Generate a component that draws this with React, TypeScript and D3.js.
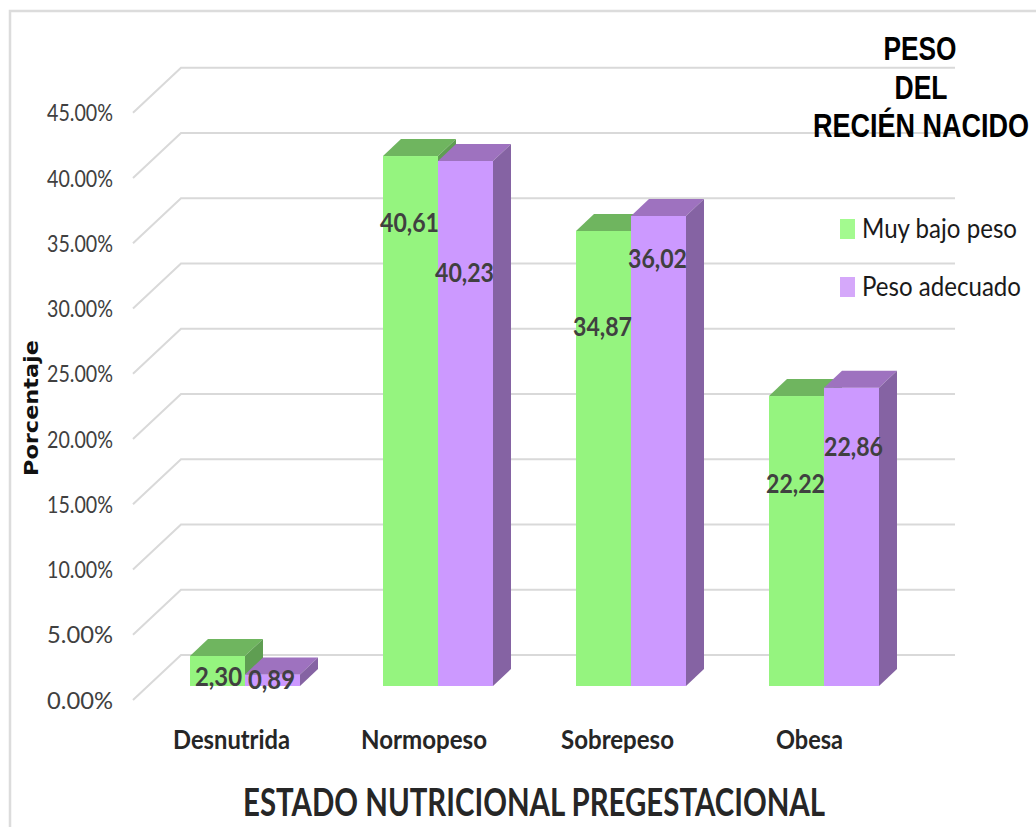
import React from "react";
import * as d3 from "d3";

const categories = ["Desnutrida", "Normopeso", "Sobrepeso", "Obesa"];
const muyBajoPeso = [2.3, 40.61, 34.87, 22.22];
const pesoAdecuado = [0.89, 40.23, 36.02, 22.86];
const muyBajoLabels = ["2,30", "40,61", "34,87", "22,22"];
const pesoLabels = ["0,89", "40,23", "36,02", "22,86"];
const ticks = [0, 5, 10, 15, 20, 25, 30, 35, 40, 45];
const titleLines = ["PESO", "DEL", "RECIÉN NACIDO"];
const legendNames = ["Muy bajo peso", "Peso adecuado"];

// label heights in axis units, as they sit on the bars
const muyBajoLabelAt = [0.75, 35.55, 27.6, 15.55];
const pesoLabelAt = [0.5, 31.7, 32.8, 18.4];
const muyBajoNudge = [2, 0, 0, 0];
const pesoNudge = [0, 0, 0, 3];

const GREEN = { front: "#95f47f", top: "#6fb55f", side: "#5f9e52" };
const PURPLE = { front: "#cc99ff", top: "#9e72bf", side: "#8563a3" };
const GRID = "#d9d9d9";
const TEXT = "#404040";
const SANS = "Lato, 'Open Sans', sans-serif";

const W = 1036;
const H = 827;
const y = d3.scaleLinear().domain([0, 45]).range([686, 98.75]);
const x = d3.scaleBand<string>().domain(categories).range([148.5, 920.5]).paddingInner(0).paddingOuter(0);
const barW = 55;
const DX = 18;
const DY = 17;
const wallDX = 48;
const wallDY = 45;
const tickY = (v: number) => y(v) + 14;

function Bar({ x0, v, c }: { x0: number; v: number; c: typeof GREEN }) {
  const yt = y(v);
  const yb = y(0);
  const x1 = x0 + barW;
  return (
    <g>
      <rect x={x0} y={yt} width={barW} height={yb - yt} fill={c.front} />
      <path d={`M${x0},${yt}L${x0 + DX},${yt - DY}L${x1 + DX},${yt - DY}L${x1},${yt}Z`} fill={c.top} />
      <path d={`M${x1},${yt}L${x1 + DX},${yt - DY}L${x1 + DX},${yb - DY}L${x1},${yb}Z`} fill={c.side} />
    </g>
  );
}

function Txt(props: any) {
  const { w, children, ...rest } = props;
  return (
    <text textLength={w} lengthAdjust="spacingAndGlyphs" {...rest}>
      {children}
    </text>
  );
}

export default function App() {
  const catCenters = [231.5, 424, 617.5, 809.5];
  const catWidths = [117, 126, 113, 67];
  return (
    <svg width={W} height={H} style={{ position: "absolute", left: 0, top: 0, background: "#fff" }}>
      <path d={`M10,${H}V11H${W}`} fill="none" stroke="#dcdcdc" strokeWidth={2.5} />

      {ticks.map((t) => (
        <path
          key={t}
          d={`M${133},${tickY(t)}L${133 + wallDX},${tickY(t) - wallDY}H955`}
          fill="none"
          stroke={GRID}
          strokeWidth={2}
        />
      ))}

      {ticks.map((t) => (
        <Txt key={t} x={47} y={tickY(t) + 8.5} w={66} fontFamily={SANS} fontSize={24} fill={TEXT}>
          {d3.format(".2f")(t)}%
        </Txt>
      ))}

      {categories.map((c, i) => {
        const x0 = (x(c) as number) + x.bandwidth() / 2 - barW;
        return (
          <g key={c}>
            <Bar x0={x0} v={muyBajoPeso[i]} c={GREEN} />
            <Bar x0={x0 + barW} v={pesoAdecuado[i]} c={PURPLE} />
          </g>
        );
      })}

      {categories.map((c, i) => {
        const mid = (x(c) as number) + x.bandwidth() / 2;
        return (
          <g key={c} fontFamily={SANS} fontWeight={700} fontSize={27} fill={TEXT} textAnchor="middle">
            <Txt x={mid - 28.5 + muyBajoNudge[i]} y={y(muyBajoLabelAt[i]) + 10} w={muyBajoLabels[i].length * 11.8}>
              {muyBajoLabels[i]}
            </Txt>
            <Txt x={mid + 26.5 + pesoNudge[i]} y={y(pesoLabelAt[i]) + 10} w={pesoLabels[i].length * 11.8}>
              {pesoLabels[i]}
            </Txt>
          </g>
        );
      })}

      {categories.map((c, i) => (
        <Txt
          key={c}
          x={catCenters[i]}
          y={749}
          w={catWidths[i]}
          textAnchor="middle"
          fontFamily={SANS}
          fontWeight={700}
          fontSize={27}
          fill="#262626"
        >
          {c}
        </Txt>
      ))}

      <Txt
        x={534}
        y={816}
        w={582}
        textAnchor="middle"
        fontFamily={SANS}
        fontWeight={700}
        fontSize={38}
        fill="#262626"
      >
        ESTADO NUTRICIONAL PREGESTACIONAL
      </Txt>

      <Txt
        transform="translate(38,408) rotate(-90)"
        x={0}
        y={0}
        w={136}
        textAnchor="middle"
        fontFamily="'DejaVu Sans', sans-serif"
        fontWeight={700}
        fontSize={19}
        fill="#111"
      >
        Porcentaje
      </Txt>

      {titleLines.map((t, i) => (
        <Txt
          key={t}
          x={[920, 921, 921][i]}
          y={[60, 99, 137][i]}
          w={[73, 53, 216][i]}
          textAnchor="middle"
          fontFamily="'Liberation Sans', Arial, sans-serif"
          fontWeight={700}
          fontSize={33}
          fill="#000"
        >
          {t}
        </Txt>
      ))}

      {legendNames.map((n, i) => (
        <g key={n}>
          <rect x={840} y={[219, 277][i]} width={15} height={20} fill={["#a3fa8f", "#d5a8fa"][i]} />
          <Txt x={862} y={[238, 296][i]} w={[155, 159][i]} fontFamily={SANS} fontSize={27} fill="#1a1a1a">
            {n}
          </Txt>
        </g>
      ))}
    </svg>
  );
}
